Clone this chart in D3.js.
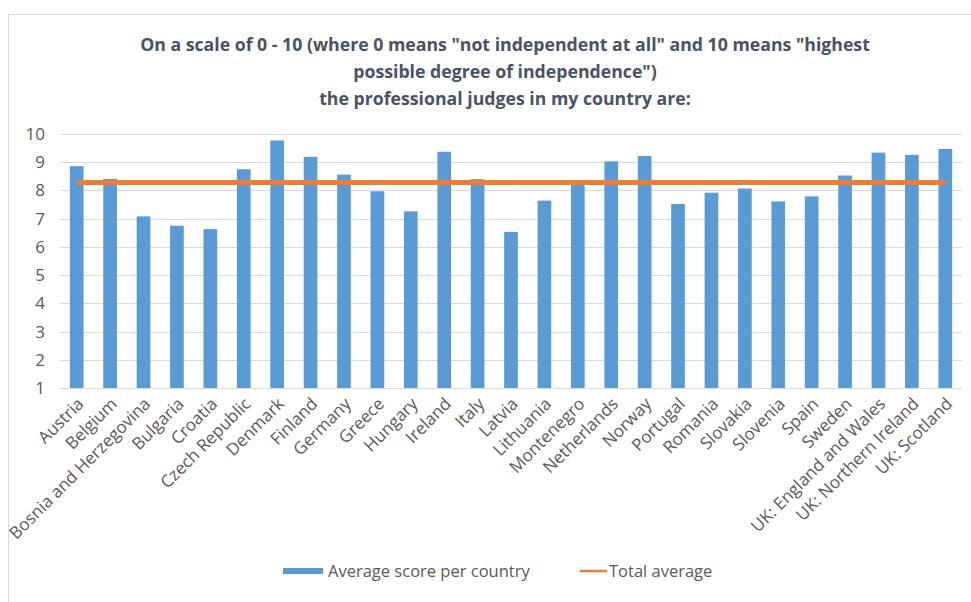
<!DOCTYPE html>
<html>
<head>
<meta charset="utf-8">
<script src="https://cdn.jsdelivr.net/npm/d3@7.9.0/dist/d3.min.js"></script>
<style>
  body { margin: 0; background: #fff; }
  svg { display: block; font-family: "Open Sans", Lato, sans-serif; }
</style>
</head>
<body>
<svg id="chart" width="971" height="602"></svg>
<script>
// data
const countries = ['Austria', 'Belgium', 'Bosnia and Herzegovina', 'Bulgaria', 'Croatia',
  'Czech Republic', 'Denmark', 'Finland', 'Germany', 'Greece', 'Hungary', 'Ireland', 'Italy',
  'Latvia', 'Lithuania', 'Montenegro', 'Netherlands', 'Norway', 'Portugal', 'Romania',
  'Slovakia', 'Slovenia', 'Spain', 'Sweden', 'UK: England and Wales', 'UK: Northern Ireland',
  'UK: Scotland'];
const scores = [8.86, 8.41, 7.08, 6.75, 6.63, 8.75, 9.77, 9.19, 8.56, 7.97, 7.26, 9.37, 8.40,
  6.53, 7.64, 8.29, 9.03, 9.22, 7.52, 7.92, 8.07, 7.61, 7.79, 8.53, 9.34, 9.26, 9.47];
const totalAverage = 8.28;
const yTicks = [1, 2, 3, 4, 5, 6, 7, 8, 9, 10];
const titleLines = [
  'On a scale of 0 - 10 (where 0 means "not independent at all" and 10 means "highest',
  'possible degree of independence")',
  'the professional judges in my country are:'
];

const svg = d3.select('#chart');
const margin = { left: 60, right: 9, top: 134, bottom: 214 };
const W = 971, H = 602;
const textCol = '#595959';
const font = '"Open Sans", Lato, sans-serif';

// frame
svg.append('rect')
  .attr('x', 8.5).attr('y', 14.5)
  .attr('width', W + 10).attr('height', H + 10)
  .attr('fill', 'none').attr('stroke', '#d9d9d9');

const x = d3.scaleBand()
  .domain(countries)
  .range([margin.left, W - margin.right])
  .paddingInner(0.59).paddingOuter(0.295);

const y = d3.scaleLinear()
  .domain([1, 10])
  .range([H - margin.bottom, margin.top]);

// gridlines
svg.append('g')
  .selectAll('line')
  .data(yTicks)
  .join('line')
  .attr('x1', margin.left).attr('x2', W - margin.right)
  .attr('y1', d => Math.round(y(d)) + 0.5).attr('y2', d => Math.round(y(d)) + 0.5)
  .attr('stroke', '#d9d9d9').attr('stroke-width', 1);

// y axis labels
const yAxis = svg.append('g')
  .attr('transform', `translate(${margin.left}, 0)`)
  .call(d3.axisLeft(y).tickValues(yTicks).tickSize(0).tickPadding(15));
yAxis.attr('font-family', font);
yAxis.select('.domain').remove();
yAxis.selectAll('text')
  .attr('fill', textCol).style('font-size', '17px');

// bars
svg.append('g')
  .selectAll('rect')
  .data(countries)
  .join('rect')
  .attr('x', d => x(d))
  .attr('width', x.bandwidth())
  .attr('y', (d, i) => y(scores[i]))
  .attr('height', (d, i) => y(1) - y(scores[i]))
  .attr('fill', '#5b9bd5');

// total average line
svg.append('line')
  .attr('x1', x(countries[0]) + x.bandwidth() / 2)
  .attr('x2', x(countries[countries.length - 1]) + x.bandwidth() / 2)
  .attr('y1', y(totalAverage)).attr('y2', y(totalAverage))
  .attr('stroke', '#ed7d31').attr('stroke-width', 5);

// x axis labels
const xAxis = svg.append('g')
  .attr('transform', `translate(0, ${y(1)})`)
  .call(d3.axisBottom(x).tickSize(0).tickPadding(0));
xAxis.attr('font-family', font);
xAxis.select('.domain').remove();
xAxis.selectAll('text')
  .attr('fill', textCol)
  .style('font-size', '17px')
  .attr('text-anchor', 'end')
  .attr('dy', null)
  .attr('y', 0)
  .attr('transform', 'translate(8, 17) rotate(-45)');

// title
svg.append('g')
  .selectAll('text')
  .data(titleLines)
  .join('text')
  .attr('x', 505)
  .attr('y', (d, i) => 51 + i * 27)
  .attr('text-anchor', 'middle')
  .attr('fill', '#4a5364')
  .style('font-size', '17.7px')
  .style('font-weight', 'bold')
  .text(d => d);

// legend
const legend = svg.append('g').attr('transform', 'translate(0, 571)');
legend.append('rect')
  .attr('x', 283).attr('y', -3).attr('width', 40).attr('height', 6)
  .attr('fill', '#5b9bd5');
legend.append('text')
  .attr('x', 328).attr('y', 6)
  .attr('fill', textCol).style('font-size', '16.5px')
  .text('Average score per country');
legend.append('line')
  .attr('x1', 580).attr('x2', 607).attr('y1', 0).attr('y2', 0)
  .attr('stroke', '#ed7d31').attr('stroke-width', 2.5);
legend.append('text')
  .attr('x', 609).attr('y', 6)
  .attr('fill', textCol).style('font-size', '16.5px')
  .text('Total average');
</script>
</body>
</html>
